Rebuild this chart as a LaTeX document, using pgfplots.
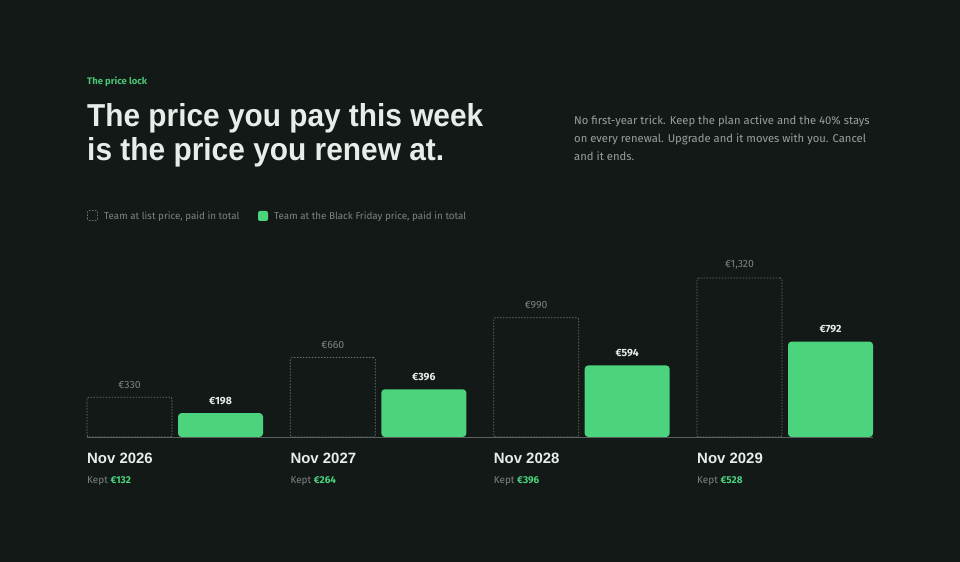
\documentclass[border=0pt]{standalone}
\usepackage{fontspec}
\usepackage{pgfplots}
\pgfplotsset{compat=1.18}
\setmainfont{Fira Sans}
\newfontfamily\headfont{Liberation Sans}
\definecolor{bg}{HTML}{121917}
\definecolor{barg}{HTML}{4CD37D}
\definecolor{titlec}{HTML}{E9EDEA}
\definecolor{muted}{HTML}{7D837F}
\definecolor{para}{HTML}{9AA09C}
\definecolor{dashc}{HTML}{6E7571}
\definecolor{kicker}{HTML}{4CC474}
\definecolor{axisc}{HTML}{5A605D}
\newcommand\xl[2]{{\headfont\bfseries\fontsize{15}{16}\selectfont\color{titlec}#1}\\[8bp]{\fontsize{10}{10}\selectfont\color{muted}Kept \textcolor{barg}{\bfseries €#2}}}
\begin{document}
\begin{tikzpicture}[x=1bp,y=1bp]
\fill[bg] (0,0) rectangle (960,562);
\useasboundingbox (0,0) rectangle (960,562);
% kicker
\node[anchor=base west, inner sep=0, text=kicker] at (87,477) {\fontsize{9.5}{11}\selectfont\bfseries The price lock};
% title
\node[anchor=base west, inner sep=0, text=titlec] at (87,435) {\resizebox{396bp}{23bp}{\headfont\bfseries The price you pay this week}};
\node[anchor=base west, inner sep=0, text=titlec] at (87,401) {\resizebox{357bp}{23bp}{\headfont\bfseries is the price you renew at.}};
% paragraph
\node[anchor=base west, inner sep=0, text=para] at (574,437) {\fontsize{11.3}{14}\selectfont No first-year trick. Keep the plan active and the 40\% stays};
\node[anchor=base west, inner sep=0, text=para] at (574,419) {\fontsize{11.3}{14}\selectfont on every renewal. Upgrade and it moves with you. Cancel};
\node[anchor=base west, inner sep=0, text=para] at (574,401) {\fontsize{11.3}{14}\selectfont and it ends.};
% legend
\draw[dashc, dash pattern=on 1.5bp off 1.5bp, line width=0.8bp, rounded corners=1.5bp] (87.5,341.5) rectangle (97.5,351.5);
\node[anchor=base west, inner sep=0, text=muted] at (104,342.5) {\fontsize{9.85}{12}\selectfont Team at list price, paid in total};
\fill[barg, rounded corners=2bp] (258,341) rectangle (268,351);
\node[anchor=base west, inner sep=0, text=muted] at (274,342.5) {\fontsize{9.85}{12}\selectfont Team at the Black Friday price, paid in total};
\begin{axis}[
  at={(87bp,125bp)}, anchor=south west,
  scale only axis, width=786bp, height=159bp,
  xmin=-0.43279, xmax=3.43279, ymin=0, ymax=1320,
  enlargelimits=false, clip=false,
  axis x line*=bottom, axis y line=none,
  x axis line style={draw=axisc, line width=0.8bp, -},
  xtick={0,1,2,3}, major tick length=0pt,
  xticklabels={\xl{Nov 2026}{132},\xl{Nov 2027}{264},\xl{Nov 2028}{396},\xl{Nov 2029}{528}},
  xticklabel style={anchor=north west, xshift=-88bp, yshift=-16bp, align=left, inner sep=0pt},
  ybar, bar width=85bp,
  /pgf/number format/.cd, 1000 sep={,}, assume math mode=true,
  /pgfplots/.cd,
  nodes near coords={€\pgfmathprintnumber{\pgfplotspointmeta}},
  every node near coord/.append style={font=\fontsize{10.5}{12}\selectfont, yshift=5bp},
]
\addplot[bar shift=-45.5bp, draw=dashc, fill=none, dash pattern=on 1.5bp off 1.5bp, line width=0.7bp, rounded corners=2bp,
  every node near coord/.append style={text=muted}]
  coordinates {(0,330) (1,660) (2,990) (3,1320)};
\addplot[bar shift=45.5bp, draw=none, fill=barg, rounded corners=3.5bp,
  every node near coord/.append style={text=titlec, font=\fontsize{10.5}{12}\selectfont\bfseries}]
  coordinates {(0,198) (1,396) (2,594) (3,792)};
\end{axis}
\end{tikzpicture}
\end{document}
